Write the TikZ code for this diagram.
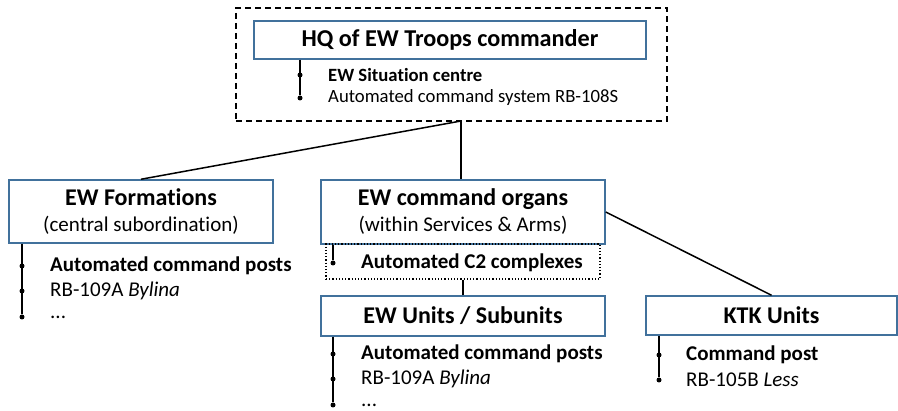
\documentclass[tikz,border=0pt]{standalone}
\usepackage{fontspec}
\setmainfont{Carlito}[Ligatures=NoCommon]
\definecolor{boxblue}{HTML}{41719C}
\tikzset{
  unitbox/.style={draw=boxblue, line width=1.5pt, fill=white, inner sep=0pt, align=center},
  dot/.style={circle, fill=black, inner sep=0pt, minimum size=5pt},
  item/.style={anchor=west, inner sep=0pt, font=\fontsize{21}{24}\selectfont},
  link/.style={line width=1.5pt}
}
\begin{document}
\begin{tikzpicture}[x=1pt,y=-1pt]
\useasboundingbox (0,0) rectangle (898,411);

% HQ and its situation centre
\node (frame) at (451.5,64.5) [draw, dashed, line width=1.5pt, dash pattern=on 6pt off 4pt,
  minimum width=431pt, minimum height=113pt] {};
\node (hq) at (450,40) [unitbox, minimum width=392pt, minimum height=38pt,
  font=\fontsize{24.2}{26}\selectfont\bfseries] {HQ of EW Troops commander};
\foreach \y/\t [count=\i] in {75/{\textbf{EW Situation centre}}, 98/{Automated command system RB-108S}} {
\node[dot] (hqd\i) at (300,\y) {};
\node[item, font=\fontsize{18.7}{20}\selectfont] (hqt\i) at (328,\y) {\t};}
\draw[link] (hq.south -| hqd1) -- (hqd2);

% connectors
\coordinate (hqout) at (461,121);
\node (organs) at (463,212) [unitbox, minimum width=284pt, minimum height=64pt,
  font=\fontsize{21}{26}\selectfont] {\fontsize{24}{26}\selectfont\bfseries EW command organs\\(within Services \& Arms)};
\node (form) at (141,211.5) [unitbox, minimum width=264pt, minimum height=63pt,
  font=\fontsize{21}{26}\selectfont] {\fontsize{24}{26}\selectfont\bfseries EW Formations\\(central subordination)};
\draw[link] (hqout) -- (form.north);
\draw[link] (hqout) -- (hqout |- organs.north);

% automated C2 complexes
\node (c2) at (463,261.5) [draw, dotted, line width=1.2pt, minimum width=274pt, minimum height=35pt] {};
\node[dot] (c2d) at (333,263) {};
\node[item, font=\fontsize{21}{24}\selectfont\bfseries] (c2t) at (361,263) {Automated C2 complexes};
\draw[link] (organs.south -| c2d) -- (c2d);

\node (units) at (463,316) [unitbox, minimum width=284pt, minimum height=40pt,
  font=\fontsize{24}{26}\selectfont\bfseries] {EW Units / Subunits};
\node (ktk) at (771.5,315.5) [unitbox, minimum width=251pt, minimum height=39pt,
  font=\fontsize{24}{26}\selectfont\bfseries] {KTK Units};
\draw[link] (c2.south) -- (units.north);
\draw[link] (organs.east) -- (ktk.north);

% lists under the boxes
\foreach \y/\t [count=\i] in {266/{\textbf{Automated command posts}}, 291/{RB-109A \textit{Bylina}}, 317/{...}} {
\node[dot] (fd\i) at (22,\y) {};
\node[item] (ft\i) at (50,\y) {\t};}
\draw[link] (form.south -| fd1) -- (fd3);

\foreach \y/\t [count=\i] in {354/{\textbf{Automated command posts}}, 379/{RB-109A \textit{Bylina}}, 405/{...}} {
\node[dot] (ud\i) at (333,\y) {};
\node[item] (ut\i) at (361,\y) {\t};}
\draw[link] (units.south -| ud1) -- (ud3);

\foreach \y/\t [count=\i] in {355/{\textbf{Command post}}, 380/{RB-105B \textit{Less}}} {
\node[dot] (kd\i) at (659,\y) {};
\node[item] (kt\i) at (686,\y) {\t};}
\draw[link] (ktk.south -| kd1) -- (kd2);
\end{tikzpicture}
\end{document}
